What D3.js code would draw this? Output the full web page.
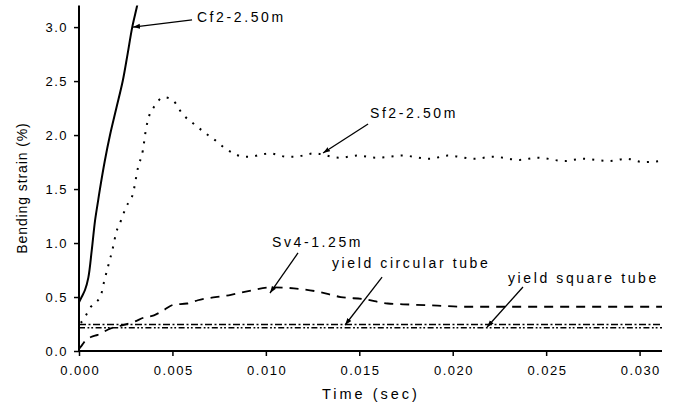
<!DOCTYPE html>
<html><head><meta charset="utf-8">
<script src="https://cdn.jsdelivr.net/npm/d3@7"></script>
<style>
html,body{margin:0;padding:0;background:#fff;}
svg{display:block;font-family:"Liberation Sans",Arial,sans-serif;}
</style></head>
<body><svg id="c" width="678" height="411"></svg>
<script>
// ---- data (time in sec, bending strain in %) ----
const cf2Time   = [0, 0.00014, 0.00032, 0.0005, 0.00068, 0.00086, 0.00103, 0.00112, 0.00138, 0.00166, 0.002, 0.00234, 0.0026, 0.00285, 0.0031, 0.0032];
const cf2Strain = [0.45, 0.50, 0.565, 0.68, 0.93, 1.21, 1.40, 1.50, 1.76, 2.0, 2.25, 2.5, 2.75, 3.0, 3.19, 3.28];

const sf2Time   = [0.0001, 0.00037, 0.00064, 0.0009, 0.00118, 0.00134, 0.00155, 0.00182, 0.00198, 0.00225, 0.00251, 0.00289, 0.00316, 0.00342, 0.00358, 0.00374, 0.00401, 0.00455, 0.00503, 0.00556, 0.0061, 0.0069, 0.00738, 0.0078, 0.00829, 0.00877, 0.00925, 0.00973, 0.0102, 0.0111, 0.0116, 0.01257, 0.01396, 0.01492, 0.01588, 0.01733, 0.01877, 0.01973, 0.02118, 0.02214, 0.02358, 0.02455, 0.02599, 0.02695, 0.02834, 0.0293, 0.03021, 0.03123];
const sf2Strain = [0.26, 0.33, 0.41, 0.45, 0.52, 0.64, 0.78, 0.96, 1.09, 1.21, 1.33, 1.46, 1.70, 1.86, 2.05, 2.17, 2.26, 2.35, 2.32, 2.19, 2.11, 2.0, 1.94, 1.88, 1.83, 1.80, 1.80, 1.82, 1.83, 1.80, 1.80, 1.83, 1.79, 1.81, 1.79, 1.81, 1.78, 1.81, 1.78, 1.80, 1.77, 1.79, 1.76, 1.78, 1.76, 1.78, 1.75, 1.76];

const sv4Time   = [0.0, 0.0001, 0.00027, 0.00064, 0.001, 0.0017, 0.00235, 0.00294, 0.00348, 0.00401, 0.00455, 0.00508, 0.00578, 0.00636, 0.00813, 0.0092, 0.01027, 0.0115, 0.01278, 0.01401, 0.01524, 0.01652, 0.01775, 0.0192, 0.02059, 0.02348, 0.02615, 0.03096, 0.0312];
const sv4Strain = [0.02, 0.04, 0.08, 0.13, 0.15, 0.21, 0.24, 0.27, 0.31, 0.33, 0.38, 0.43, 0.44, 0.47, 0.52, 0.56, 0.59, 0.58, 0.55, 0.50, 0.48, 0.44, 0.43, 0.42, 0.41, 0.41, 0.41, 0.41, 0.41];

const yieldCircular = 0.245;
const yieldSquare   = 0.215;

const xTicks = [0, 0.005, 0.010, 0.015, 0.020, 0.025, 0.030];
const xTickLabels = ["0.000", "0.005", "0.010", "0.015", "0.020", "0.025", "0.030"];
const yTicks = [0, 0.5, 1.0, 1.5, 2.0, 2.5, 3.0];
const yTickLabels = ["0.0", "0.5", "1.0", "1.5", "2.0", "2.5", "3.0"];

// annotation labels: text, text anchor (data units), arrow start -> arrow tip (data units)
const annoText = ["Cf2-2.50m", "Sf2-2.50m", "Sv4-1.25m", "yield circular tube", "yield square tube"];
const annoAt   = [[0.00631, 3.047], [0.01557, 2.158], [0.01033, 0.963], [0.01354, 0.769], [0.02296, 0.63]];
const annoFrom = [[0.00605, 3.066], [0.01547, 2.102], [0.01172, 0.908], [0.01622, 0.685], [0.02376, 0.593]];
const annoTo   = [[0.00289, 3.0], [0.01306, 1.834], [0.01022, 0.537], [0.01424, 0.241], [0.02184, 0.222]];

// ---- drawing ----
const svg = d3.select("#c");
const x = d3.scaleLinear().domain([0, 0.0312]).range([79, 662]);
const y = d3.scaleLinear().domain([0, 3.2]).range([351, 5.5]);

svg.append("defs").append("clipPath").attr("id", "plot")
  .append("rect").attr("x", 79).attr("y", 5.5).attr("width", 590).attr("height", 346);
svg.select("defs").append("marker").attr("id", "arr")
  .attr("viewBox", "0 0 10 10").attr("refX", 10).attr("refY", 5)
  .attr("markerWidth", 7).attr("markerHeight", 7).attr("orient", "auto")
  .attr("markerUnits", "userSpaceOnUse")
  .append("path").attr("d", "M0,1.5 L10,5 L0,8.5 Z").attr("fill", "#000");

const line = d3.line().x(d => x(d[0])).y(d => y(d[1]));
const g = svg.append("g").attr("clip-path", "url(#plot)");

// yield lines
g.append("path").datum([[0, yieldCircular], [0.0312, yieldCircular]]).attr("d", line)
  .attr("fill", "none").attr("stroke", "#000").attr("stroke-width", 1.6).attr("stroke-dasharray", "7,2.5,2,2.5");
g.append("path").datum([[0, yieldSquare], [0.0312, yieldSquare]]).attr("d", line)
  .attr("fill", "none").attr("stroke", "#000").attr("stroke-width", 1.6).attr("stroke-dasharray", "6,2.5,1.8,2,1.8,2.5");

const curve = d3.line().x(d => x(d[0])).y(d => y(d[1])).curve(d3.curveMonotoneX);
g.append("path").datum(d3.zip(sv4Time, sv4Strain)).attr("d", curve)
  .attr("fill", "none").attr("stroke", "#000").attr("stroke-width", 1.8).attr("stroke-dasharray", "9,7");
g.append("path").datum(d3.zip(sf2Time, sf2Strain)).attr("d", curve)
  .attr("fill", "none").attr("stroke", "#000").attr("stroke-width", 2).attr("stroke-dasharray", "2,7.2");
g.append("path").datum(d3.zip(cf2Time, cf2Strain)).attr("d", d3.line().x(d => x(d[0])).y(d => y(d[1])).curve(d3.curveCatmullRom))
  .attr("fill", "none").attr("stroke", "#000").attr("stroke-width", 2);

// axes
const xAxis = svg.append("g").attr("transform", "translate(0,351)");
xAxis.call(d3.axisBottom(x).tickValues(d3.range(0, 0.0311, 0.0025)).tickSize(3).tickFormat(""));
xAxis.call(d3.axisBottom(x).tickValues(xTicks).tickSize(5).tickFormat((d, i) => xTickLabels[i]));
xAxis.selectAll(".domain").remove();
xAxis.append("line").attr("x1", 79).attr("x2", 662).attr("stroke", "#000").attr("stroke-width", 2);
xAxis.selectAll(".tick line").attr("stroke-width", 1.5);
xAxis.selectAll(".tick text").attr("font-size", 13).attr("fill", "#000").attr("dy", "1.25em")
  .style("letter-spacing", "1.5px").attr("dx", 0.75);

const yAxis = svg.append("g").attr("transform", "translate(79,0)");
yAxis.call(d3.axisLeft(y).tickValues(d3.range(0, 3.2, 0.25)).tickSize(3).tickFormat(""));
yAxis.call(d3.axisLeft(y).tickValues(yTicks).tickSize(5).tickFormat((d, i) => yTickLabels[i]));
yAxis.selectAll(".domain").remove();
yAxis.append("line").attr("y1", 352).attr("y2", 5.5).attr("stroke", "#000").attr("stroke-width", 2);
yAxis.selectAll(".tick line").attr("stroke-width", 1.5);
yAxis.selectAll(".tick text").attr("font-size", 13).attr("fill", "#000").attr("x", -11)
  .style("letter-spacing", "1.5px");

// axis titles
svg.append("text").attr("x", 322).attr("y", 399).attr("font-size", 14.5).style("letter-spacing", "3px")
  .text("Time (sec)");
svg.append("text").attr("transform", "translate(27,188) rotate(-90)").attr("text-anchor", "middle")
  .attr("font-size", 14).style("letter-spacing", "0.9px").text("Bending strain (%)");

// annotations
annoText.forEach((t, i) => {
  svg.append("text").attr("x", x(annoAt[i][0])).attr("y", y(annoAt[i][1]))
    .attr("font-size", 14).style("letter-spacing", "2.6px").text(t);
  svg.append("line").attr("x1", x(annoFrom[i][0])).attr("y1", y(annoFrom[i][1]))
    .attr("x2", x(annoTo[i][0])).attr("y2", y(annoTo[i][1]))
    .attr("stroke", "#000").attr("stroke-width", 1.3).attr("marker-end", "url(#arr)");
});
</script></body></html>
